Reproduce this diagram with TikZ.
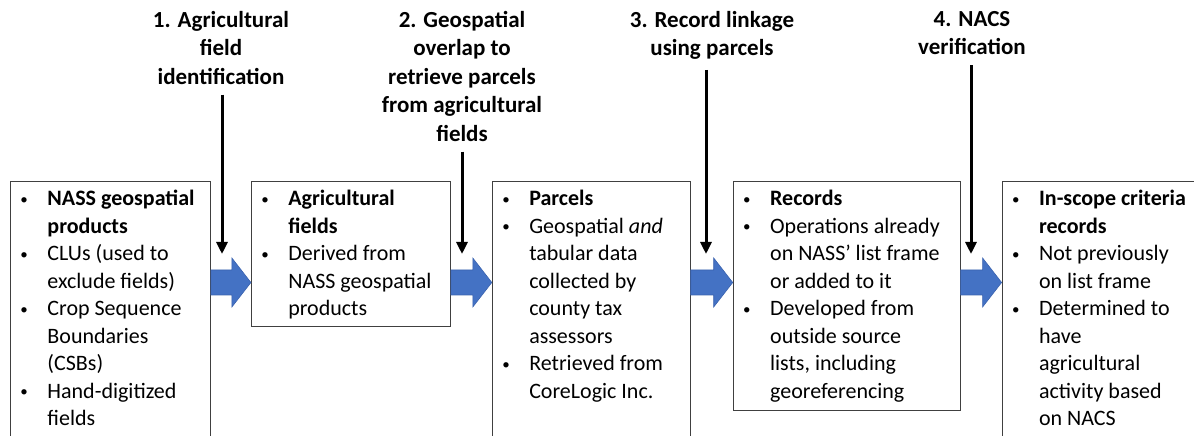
\documentclass[tikz,border=0pt]{standalone}
\usepackage{fontspec}
\setmainfont{Carlito}
\usepackage{xcolor}
\definecolor{flowblue}{HTML}{4472C4}
\definecolor{flowedge}{HTML}{3A62AE}
\usetikzlibrary{positioning}
\usetikzlibrary{calc}
\usetikzlibrary{arrows.meta}

% one bullet of a list box
\newcommand{\itm}[1]{\par\leavevmode\llap{\makebox[27pt][l]{\raisebox{1.5pt}{\fontsize{15pt}{15pt}\selectfont\textbullet}}}\strut#1}
% top aligned list of bullets: width, height, items
\newcommand{\listbox}[3]{%
  \begin{minipage}[t][#2][t]{#1}%
    \fontsize{22pt}{27.5pt}\selectfont\raggedright
    \leftskip=37pt\relax
    \vspace*{5pt}%
    #3%
  \end{minipage}}

\tikzset{
  listnode/.style={draw=black!75, line width=0.9pt, inner sep=0pt, anchor=north west},
  stepnode/.style={font=\fontsize{23pt}{28.5pt}\selectfont\bfseries, align=center, inner sep=0pt, anchor=north},
  stepline/.style={-{Triangle[width=11pt,length=12pt]}, line width=3pt, shorten <=10pt},
  flowarrow/.style={fill=flowblue, draw=flowedge, line width=0.6pt}
}

\begin{document}
\begin{tikzpicture}[x=1pt, y=1pt]

    \useasboundingbox (0,0) rectangle (1194,436);
    \clip (0,0) rectangle (1194,436);

    % the five stages
    \node[listnode] (b1) at (10,255) {\listbox{200pt}{270pt}{%
        \itm{\textbf{NASS geospatial\\ products}}
        \itm{CLUs (used to\\ exclude fields)}
        \itm{Crop Sequence\\ Boundaries\\ (CSBs)}
        \itm{Hand-digitized\\ fields}}};
    \node[listnode, right=40pt of b1.north east, anchor=north west] (b2) {\listbox{199pt}{145pt}{%
        \itm{\textbf{Agricultural\\ fields}}
        \itm{Derived from\\ NASS geospatial\\ products}}};
    \node[listnode, right=41pt of b2.north east, anchor=north west] (b3) {\listbox{198pt}{270pt}{%
        \itm{\textbf{Parcels}}
        \itm{Geospatial \textit{and}\\ tabular data\\ collected by\\ county tax\\ assessors}
        \itm{Retrieved from\\ CoreLogic Inc.}}};
    \node[listnode, right=42pt of b3.north east, anchor=north west] (b4) {\listbox{227pt}{229pt}{%
        \itm{\textbf{Records}}
        \itm{Operations already\\ on NASS’ list frame\\ or added to it}
        \itm{Developed from\\ outside source\\ lists, including\\ georeferencing}}};
    \node[listnode, right=41pt of b4.north east, anchor=north west] (b5) {\listbox{210pt}{270pt}{%
        \itm{\textbf{In-scope criteria\\ records}}
        \itm{Not previously\\ on list frame}
        \itm{Determined to\\ have\\ agricultural\\ activity based\\ on NACS}}};

    % block arrows between the stages
    \foreach \a/\b in {b1/b2, b2/b3, b3/b4, b4/b5}
        \filldraw[flowarrow] ($(\a.north east)+(0,-89)$) -- ($(\b.north west)+(-19,-89)$)
            -- ($(\b.north west)+(-19,-77)$) -- ($(\b.north west)+(0,-101.5)$)
            -- ($(\b.north west)+(-19,-126)$) -- ($(\b.north west)+(-19,-114)$)
            -- ($(\a.north east)+(0,-114)$) -- cycle;

    % processing steps
    \node[stepnode] (l1) at (221,425) {1. Agricultural\\field\\identification};
    \node[stepnode] (l2) at (462,425) {2. Geospatial\\overlap to\\retrieve parcels\\from agricultural\\fields};
    \node[stepnode] (l3) at (712,425) {3. Record linkage\\using parcels};
    \node[stepnode] (l4) at (972,425) {4. NACS\\verification};

    \coordinate (t1) at (222,182);
    \coordinate (t2) at (462,182);
    \coordinate (t3) at (706,182);
    \coordinate (t4) at (971,182);

    \foreach \i in {1,...,4}
        \draw[stepline] (l\i.south -| t\i) -- (t\i);

\end{tikzpicture}
\end{document}
